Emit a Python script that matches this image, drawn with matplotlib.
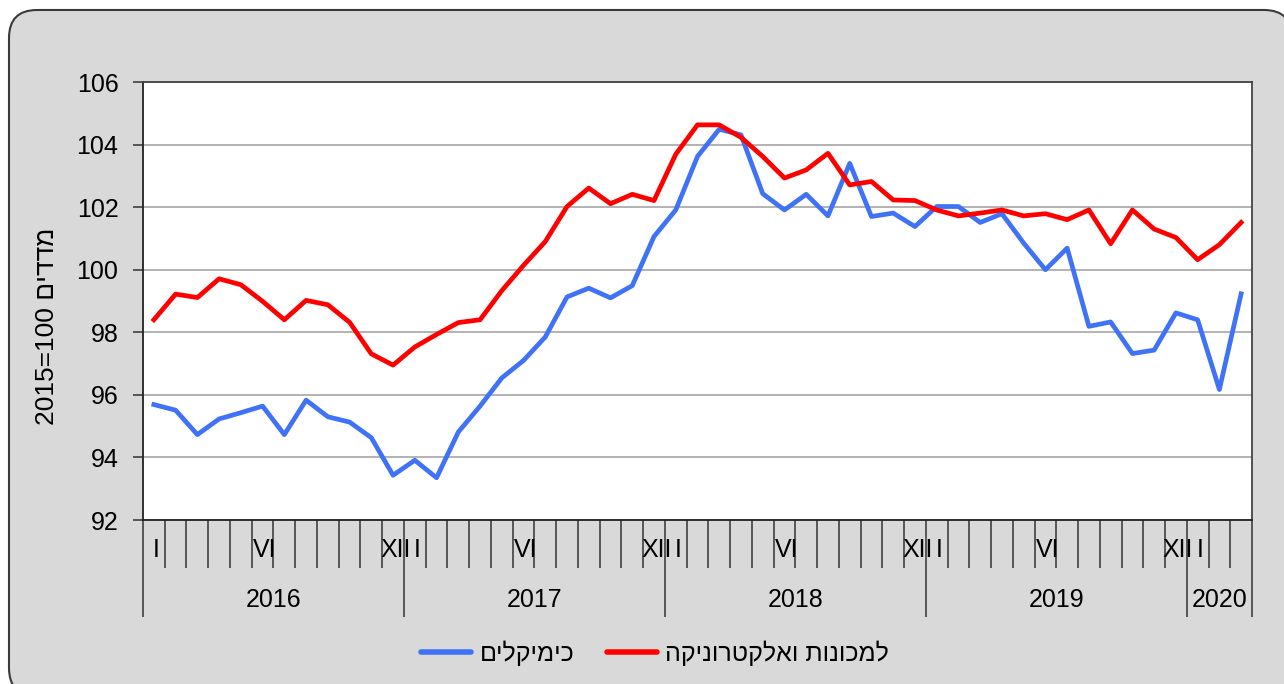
import matplotlib
matplotlib.use('Agg')
import matplotlib.pyplot as plt
from matplotlib.patches import FancyBboxPatch
from matplotlib.lines import Line2D
from matplotlib.transforms import IdentityTransform

plt.rcParams['font.family'] = ['Liberation Sans', 'DejaVu Sans']

# Monthly index values, Jan 2016 - Mar 2020 (2015=100)
chemicals = [95.69, 95.51, 94.73, 95.23, 95.43, 95.64, 94.73, 95.83, 95.30, 95.13, 94.63, 93.43,
             93.91, 93.35, 94.81, 95.64, 96.54, 97.10, 97.85, 99.13, 99.41, 99.10, 99.49, 101.06,
             101.91, 103.62, 104.49, 104.31, 102.43, 101.91, 102.41, 101.72, 103.40, 101.70, 101.81, 101.38,
             102.02, 102.02, 101.51, 101.79, 100.85, 100.00, 100.69, 98.19, 98.33, 97.32, 97.43, 98.62,
             98.40, 96.17, 99.23]
machines = [98.40, 99.22, 99.11, 99.71, 99.52, 98.99, 98.40, 99.02, 98.88, 98.32, 97.31, 96.95,
            97.53, 97.93, 98.31, 98.40, 99.33, 100.14, 100.90, 102.02, 102.61, 102.11, 102.41, 102.21,
            103.69, 104.63, 104.63, 104.23, 103.62, 102.93, 103.19, 103.72, 102.71, 102.82, 102.23, 102.21,
            101.91, 101.72, 101.81, 101.91, 101.72, 101.79, 101.60, 101.91, 100.83, 101.91, 101.30, 101.03,
            100.32, 100.80, 101.51]

years = ['2016', '2017', '2018', '2019', '2020']
months_per_year = [12, 12, 12, 12, 3]
month_labels = {0: 'I', 5: 'VI', 11: 'XII'}

label_chem = 'כימיקלים'
label_mach = 'למכונות ואלקטרוניקה'
ylabel_heb = 'מדדים'

W, H = 1284, 684
fig = plt.figure(figsize=(W / 100, H / 100), dpi=100)
fig.patch.set_facecolor('white')

# rounded grey frame (pixel coords, y from bottom)
frame = FancyBboxPatch((9, -12), 1283, H - 10 + 12,
                       boxstyle='round,pad=0,rounding_size=28',
                       transform=IdentityTransform(), facecolor='#d9d9d9',
                       edgecolor='#3a3a3a', linewidth=1.5, zorder=-10)
fig.patches.append(frame)

ax = fig.add_axes([143 / W, (H - 520) / H, (1252 - 143) / W, 438 / H])
ax.set_zorder(5)
ax.set_facecolor('white')

n = len(chemicals)
x = [i + 0.5 for i in range(n)]
ax.plot(x, chemicals, color='#3f72f6', linewidth=3.4, zorder=3)
ax.plot(x, machines, color='#ff0000', linewidth=3.4, zorder=3)

ax.set_xlim(0, n)
ax.set_ylim(92, 106)
ax.set_yticks(range(92, 107, 2))
ax.grid(True, axis='y', color='#a6a6a6', linewidth=1.2)
ax.set_axisbelow(True)
ax.tick_params(axis='y', direction='out', length=7.2, width=1.1, color='#333333',
               pad=10.5, labelsize=18)

for side in ['left', 'bottom']:
    ax.spines[side].set_color('#222222')
    ax.spines[side].set_linewidth(1.3)
for side in ['top', 'right']:
    ax.spines[side].set_color('#444444')
    ax.spines[side].set_linewidth(1.3)

# x axis: year boundaries (long ticks) and month boundaries (short ticks)
bounds = [0]
for m in months_per_year:
    bounds.append(bounds[-1] + m)
minor = [b for b in range(n + 1) if b not in bounds]
ax.set_xticks(bounds)
ax.set_xticks(minor, minor=True)
ax.set_xticklabels([])
ax.tick_params(axis='x', which='major', direction='out', length=70, width=1.1, color='#333333')
ax.tick_params(axis='x', which='minor', direction='out', length=34.5, width=1.1, color='#333333')

for k, yr in enumerate(years):
    start = bounds[k]
    for idx, lab in month_labels.items():
        if idx < months_per_year[k]:
            ax.text(start + idx + 0.6, -0.068, lab, transform=ax.get_xaxis_transform(),
                    ha='center', va='center', fontsize=18)
    ax.text((bounds[k] + bounds[k + 1]) / 2, -0.183, yr, transform=ax.get_xaxis_transform(),
            ha='center', va='center', fontsize=18)

# Hebrew strings reversed for visual right-to-left order
fig.text(47 / W, 1 - 326 / H, '2015=100 ' + ylabel_heb[::-1], rotation=90,
         ha='center', va='center', fontsize=19)

handles = [Line2D([], [], color='#3f72f6', linewidth=4, solid_capstyle='round'),
           Line2D([], [], color='#ff0000', linewidth=4, solid_capstyle='round')]
fig.legend(handles, [label_chem[::-1], label_mach[::-1]], loc='center',
           bbox_to_anchor=(655 / W, 1 - 653 / H), ncol=2, frameon=False, fontsize=18,
           handlelength=2.0, handletextpad=0.35, columnspacing=1.3)

fig.savefig('out.png', dpi=100, facecolor=fig.get_facecolor())
